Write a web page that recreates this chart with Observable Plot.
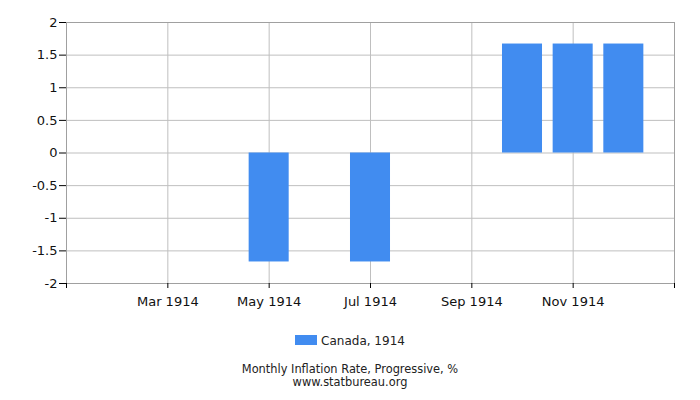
<!DOCTYPE html>
<html>
<head>
<meta charset="utf-8">
<script src="https://cdn.jsdelivr.net/npm/d3@7"></script>
<script src="https://cdn.jsdelivr.net/npm/@observablehq/plot@0.6"></script>
<style>
  body { margin: 0; background: #fff; font-family: "DejaVu Sans", sans-serif; }
  #wrap { width: 700px; height: 400px; position: relative; }
  #legend { position: absolute; top: 334px; left: 0; width: 700px; text-align: center; font-size: 12px; color: #222; }
  #legend .sw { display: inline-block; width: 22px; height: 10px; background: #418cf0; vertical-align: middle; margin-right: 4px; position: relative; top: -2px; }
  .cap { position: absolute; left: 0; width: 700px; text-align: center; font-size: 11.4px; line-height: 12px; color: #222; }
</style>
</head>
<body>
<div id="wrap">
  <div id="chart"></div>
  <div id="legend"><span class="sw"></span>Canada, 1914</div>
  <div class="cap" style="top:363px">Monthly Inflation Rate, Progressive, %</div>
  <div class="cap" style="top:376px">www.statbureau.org</div>
</div>
<script>
const months = ["Jan 1914","Feb 1914","Mar 1914","Apr 1914","May 1914","Jun 1914","Jul 1914","Aug 1914","Sep 1914","Oct 1914","Nov 1914","Dec 1914"];
const values = [0, 0, 0, 0, -1.67, 0, -1.67, 0, 0, 1.67, 1.67, 1.67];
const xTicks = [0, 2, 4, 6, 8, 10, 12];
const xTickLabels = ["", "Mar 1914", "May 1914", "Jul 1914", "Sep 1914", "Nov 1914", ""];
const yTicks = [-2, -1.5, -1, -0.5, 0, 0.5, 1, 1.5, 2];

const data = months.map((m, i) => ({month: m, idx: i, value: values[i]}));
const barHalf = 0.395;

const chart = Plot.plot({
  width: 700,
  height: 313,
  marginLeft: 66,
  marginRight: 26,
  marginTop: 22,
  marginBottom: 30,
  style: {fontFamily: "DejaVu Sans, sans-serif", fontSize: "13px", color: "#222", background: "#fff"},
  x: {domain: [0, 12], label: null},
  y: {domain: [-2, 2], label: null},
  marks: [
    Plot.gridY(yTicks, {stroke: "#bfbfbf", strokeOpacity: 1}),
    Plot.gridX(xTicks, {stroke: "#bfbfbf", strokeOpacity: 1}),
    Plot.rectY(data.filter(d => d.value !== 0), {
      x1: d => d.idx - barHalf,
      x2: d => d.idx + barHalf,
      y1: 0,
      y2: "value",
      fill: "#418cf0",
      clip: true
    }),
    Plot.frame({stroke: "#a0a0a0"}),
    Plot.axisY(yTicks, {tickSize: 7, tickPadding: 2, stroke: "#000", fill: "#111", tickFormat: d => String(d)}),
    Plot.axisX(xTicks, {tickSize: 5, tickPadding: 8, stroke: "#000", fill: "#111", tickFormat: (d, i) => xTickLabels[xTicks.indexOf(d)]})
  ]
});
document.getElementById("chart").appendChild(chart);
</script>
</body>
</html>
